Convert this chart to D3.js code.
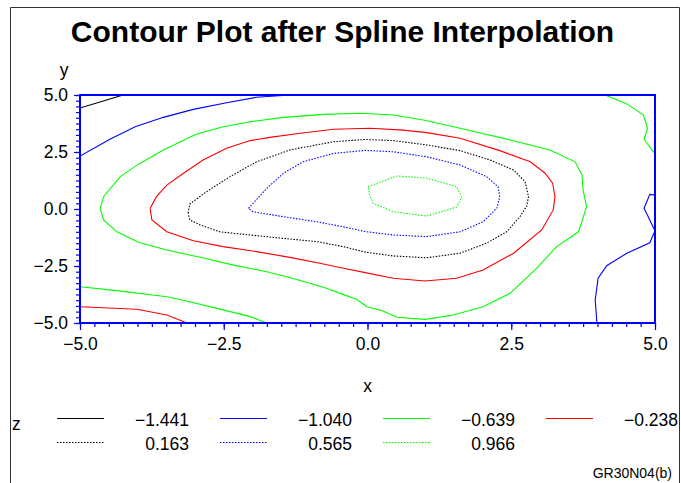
<!DOCTYPE html>
<html><head><meta charset="utf-8">
<script src="https://cdn.jsdelivr.net/npm/d3@7"></script>
<style>body{margin:0;background:#fff}svg{display:block}text{font-family:"Liberation Sans",Arial,sans-serif}</style>
</head><body>
<script>
// ---- data ----
const titleText = "Contour Plot after Spline Interpolation";
const xTicks = [-5, -2.5, 0, 2.5, 5];
const yTicks = [-5, -2.5, 0, 2.5, 5];
const zLevels = [-1.441, -1.040, -0.639, -0.238, 0.163, 0.565, 0.966];
const zLabels = ["\u22121.441", "\u22121.040", "\u22120.639", "\u22120.238", "0.163", "0.565", "0.966"];

// contour lines (x, y in data units), one list of pieces per level
const lvlA = [ // -1.441
  [[-5,4.43],[-4.25,5]]
];
const lvlB = [ // -1.040
  [[-5,2.32],[-4.48,3.06],[-4.04,3.61],[-3.55,4.02],[-3.03,4.37],[-2.45,4.66],[-1.93,4.90],[-1.35,5]],
  [[5,0.61],[4.91,0.64],[4.81,0.03],[5,-0.95],[4.91,-1.48],[4.51,-1.94],[4.16,-2.49],[4.01,-3.04],[3.96,-3.99],[3.99,-5]]
];
const lvlC = [ // -0.639
  [[-4.65,0.03],[-4.59,0.54],[-4.30,1.42],[-3.96,2.00],[-3.55,2.59],[-2.97,3.29],[-2.51,3.61],[-2.04,3.83],[-1.46,4.02],[-0.77,4.15],[-0.13,4.20],[0.45,4.12],[0.97,3.90],[1.61,3.54],[2.48,3.03],[3.17,2.59],[3.61,2.07],[3.73,1.49],[3.75,0.83],[3.81,0.10],[3.67,-1.00],[3.29,-1.65],[2.94,-2.60],[2.48,-3.70],[2.01,-4.29],[1.49,-4.65],[1.00,-4.84],[0.51,-4.75],[0.27,-4.47],[-0.01,-4.29],[-0.19,-3.96],[-0.48,-3.70],[-0.71,-3.48],[-1.00,-3.26],[-1.41,-2.97],[-1.75,-2.75],[-2.33,-2.46],[-2.91,-2.12],[-3.49,-1.80],[-3.96,-1.48],[-4.36,-1.00],[-4.59,-0.48],[-4.65,0.03]],
  [[4.13,5],[4.51,4.61],[4.80,4.12],[4.87,3.54],[4.81,3.06],[4.97,2.51],[5,2.46]],
  [[-5,-3.41],[-4.36,-3.58],[-3.49,-3.85],[-3.09,-4.07],[-2.62,-4.36],[-2.04,-4.72],[-1.75,-5]]
];
const lvlD = [ // -0.238
  [[-3.78,0.03],[-3.67,0.54],[-3.49,1.05],[-3.20,1.57],[-2.86,2.15],[-2.45,2.66],[-2.04,3.00],[-1.70,3.14],[-1.17,3.32],[-0.59,3.50],[0.04,3.54],[0.62,3.46],[1.03,3.35],[1.61,3.10],[2.30,2.56],[2.83,2.07],[3.09,1.57],[3.22,1.13],[3.26,0.54],[3.23,-0.04],[3.03,-0.92],[2.54,-1.94],[2.01,-2.68],[1.55,-3.04],[1.00,-3.16],[0.45,-3.04],[-0.04,-2.79],[-0.42,-2.60],[-0.83,-2.38],[-1.35,-2.12],[-1.93,-1.87],[-2.51,-1.65],[-3.03,-1.39],[-3.49,-1.00],[-3.75,-0.48],[-3.78,0.03]],
  [[-5,-4.29],[-4.01,-4.40],[-3.49,-4.65],[-3.14,-5]]
];
const lvlE = [ // 0.163
  [[-3.12,-0.18],[-3.09,0.22],[-2.80,0.76],[-2.39,1.42],[-1.93,2.07],[-1.35,2.59],[-0.59,2.95],[-0.04,3.05],[0.45,3.00],[1.03,2.81],[1.61,2.56],[2.13,2.15],[2.54,1.71],[2.74,1.20],[2.80,0.54],[2.77,0.13],[2.65,-0.34],[2.42,-1.00],[2.07,-1.50],[1.61,-1.94],[1.03,-2.14],[0.45,-2.06],[-0.04,-1.89],[-0.42,-1.65],[-0.88,-1.43],[-1.46,-1.29],[-2.04,-1.14],[-2.57,-1.00],[-2.91,-0.70],[-3.09,-0.48],[-3.12,-0.18]]
];
const lvlF = [ // 0.565
  [[-2.07,0.03],[-1.75,0.91],[-1.46,1.57],[-1.12,2.07],[-0.59,2.44],[-0.04,2.57],[0.45,2.51],[1.03,2.29],[1.61,1.93],[2.07,1.42],[2.27,0.98],[2.30,0.53],[2.25,0.04],[2.01,-0.56],[1.61,-1.00],[1.03,-1.21],[0.45,-1.14],[-0.04,-0.99],[-0.42,-0.78],[-0.88,-0.56],[-1.46,-0.34],[-1.99,-0.12],[-2.07,0.03]]
];
const lvlG = [ // 0.966
  [[0.01,0.98],[0.51,1.45],[1.03,1.35],[1.55,0.98],[1.64,0.51],[1.55,0.09],[1.03,-0.31],[0.45,-0.12],[0.10,0.25],[0.04,0.61],[0.01,0.98]]
];
const contourLines = [lvlA, lvlB, lvlC, lvlD, lvlE, lvlF, lvlG];

// ---- styles ----
const lineColors = ["#000000", "#0000ff", "#00ff00", "#ff0000", "#000000", "#0000ff", "#00ff00"];
const lineDash = [null, null, null, null, "1.5,1.5", "1.5,1.5", "1.5,1.5"];

const W = 681, H = 483;
const M = {left: 80, right: 655, top: 95, bottom: 323};
const svg = d3.select("body").append("svg").attr("width", W).attr("height", H);

// outer frame
svg.append("path").attr("d", `M10.5,${H} V7.5 H679.5 V${H}`)
  .attr("fill", "none").attr("stroke", "#333").attr("stroke-width", 1);

svg.append("text").attr("x", 342.5).attr("y", 42).attr("text-anchor", "middle")
  .style("font-size", "30px").style("font-weight", "bold").text(titleText);

const x = d3.scaleLinear().domain([-5, 5]).range([M.left, M.right]);
const y = d3.scaleLinear().domain([-5, 5]).range([M.bottom, M.top]);
const fmt = d => d3.format(".1f")(d).replace("-", "\u2212");
const minor = d3.range(-5, 5.001, 0.25);

// clip
svg.append("clipPath").attr("id", "clip").append("rect")
  .attr("x", M.left).attr("y", M.top).attr("width", M.right - M.left).attr("height", M.bottom - M.top);

// contours
const line = d3.line().x(d => x(d[0])).y(d => y(d[1]));
const g = svg.append("g").attr("clip-path", "url(#clip)");
contourLines.forEach((pieces, i) => {
  pieces.forEach(p => {
    g.append("path").attr("d", line(p)).attr("fill", "none")
      .attr("stroke", lineColors[i]).attr("stroke-width", 1.1)
      .attr("stroke-dasharray", lineDash[i]);
  });
});

// axes
const xAxisMinor = d3.axisBottom(x).tickValues(minor).tickSize(4).tickFormat("");
const xAxisMajor = d3.axisBottom(x).tickValues(xTicks).tickSize(7).tickPadding(8).tickFormat(fmt);
const yAxisMinor = d3.axisLeft(y).tickValues(minor).tickSize(4).tickFormat("");
const yAxisMajor = d3.axisLeft(y).tickValues(yTicks).tickSize(6).tickPadding(6).tickFormat(fmt);

function styleAxis(sel) {
  sel.select(".domain").remove();
  sel.selectAll("line").attr("stroke", "#0000ff").attr("stroke-width", 1.2);
  sel.selectAll("text").attr("fill", "#000").style("font-size", "17.5px").style("font-family", "'Liberation Sans',Arial,sans-serif");
}
svg.append("g").attr("transform", `translate(0,${M.bottom})`).call(xAxisMinor).call(styleAxis);
svg.append("g").attr("transform", `translate(0,${M.bottom})`).call(xAxisMajor).call(styleAxis);
svg.append("g").attr("transform", `translate(${M.left},0)`).call(yAxisMinor).call(styleAxis);
svg.append("g").attr("transform", `translate(${M.left},0)`).call(yAxisMajor).call(styleAxis);

// plot frame
svg.append("rect").attr("x", M.left).attr("y", M.top)
  .attr("width", M.right - M.left).attr("height", M.bottom - M.top)
  .attr("fill", "none").attr("stroke", "#0000ff").attr("stroke-width", 2);

// axis labels
svg.append("text").attr("x", (M.left + M.right) / 2).attr("y", 392).attr("text-anchor", "middle")
  .style("font-size", "17.5px").text("x");
svg.append("text").attr("x", 64).attr("y", 76).attr("text-anchor", "middle")
  .style("font-size", "17.5px").text("y");

// legend
svg.append("text").attr("x", 12).attr("y", 430).style("font-size", "17.5px").text("z");
const lg = svg.append("g");
zLevels.forEach((z, i) => {
  const col = i % 4, row = Math.floor(i / 4);
  const lx = 57 + col * 163, ly = 418.5 + row * 24;
  lg.append("line").attr("x1", lx).attr("x2", lx + 47).attr("y1", ly).attr("y2", ly)
    .attr("stroke", lineColors[i]).attr("stroke-width", 1.1).attr("stroke-dasharray", lineDash[i]);
  lg.append("text").attr("x", 189 + col * 163).attr("y", ly + 7).attr("text-anchor", "end")
    .style("font-size", "17.5px").text(zLabels[i]);
});

svg.append("text").attr("x", 672).attr("y", 478).attr("text-anchor", "end")
  .style("font-size", "14px").text("GR30N04(b)");
</script>
</body></html>
